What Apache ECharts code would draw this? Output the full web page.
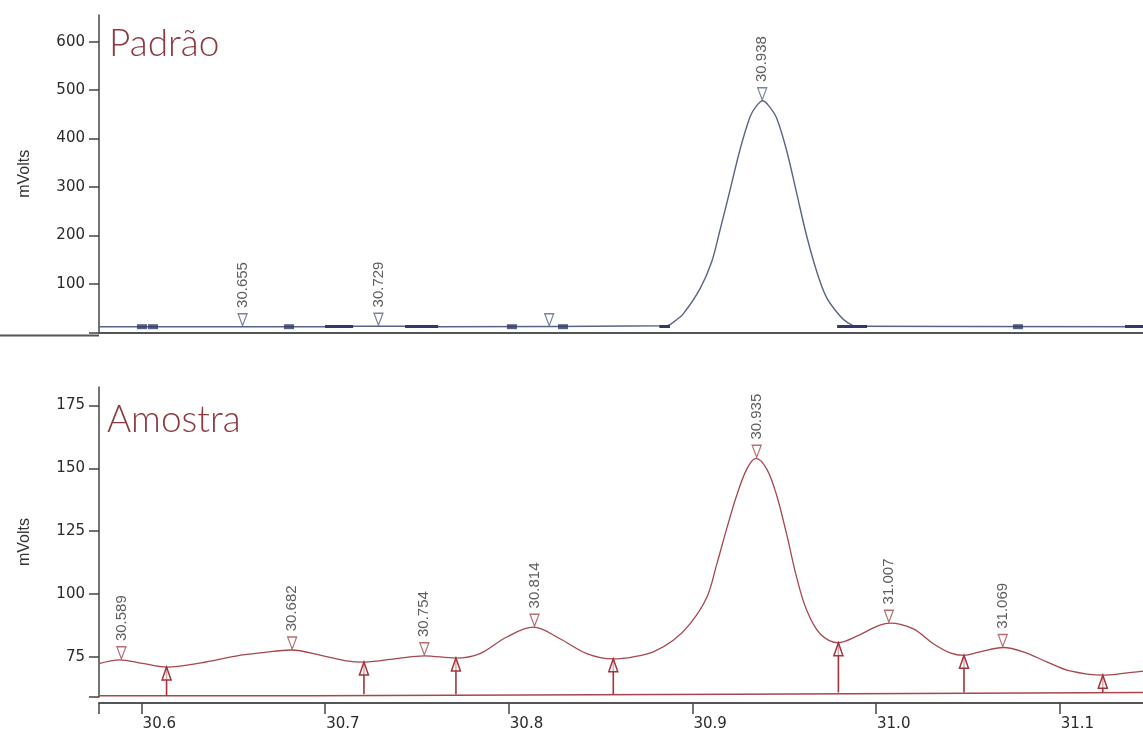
<!DOCTYPE html>
<html>
<head>
<meta charset="utf-8">
<script src="https://cdn.jsdelivr.net/npm/echarts@6/dist/echarts.min.js"></script>
<style>
html,body{margin:0;padding:0;background:#fff;}
#c{width:1143px;height:732px;}
</style>
</head>
<body>
<div id="c"></div>
<script>
// ---- data ----
const xMin = 30.5768, xMax = 31.1454;
const xTickValues = [30.6, 30.7, 30.8, 30.9, 31.0, 31.1];
const topYTicks = [100, 200, 300, 400, 500, 600];
const bottomYTicks = [75, 100, 125, 150, 175];

// Padrão trace
const topTimes  = [30.5768, 30.70, 30.715, 30.7435, 30.76, 30.8862, 30.8905, 30.8949, 30.9041, 30.9105, 30.9150, 30.9205, 30.9259, 30.9314, 30.9346, 30.9383, 30.9417, 30.9459, 30.9514, 30.9568, 30.9623, 30.9677, 30.9731, 30.9804, 30.9847, 30.9891, 31.1454];
const topValues = [12, 12, 13, 13, 12, 14, 24, 38, 90, 146, 211, 294, 377, 445, 466, 478, 467, 442, 374, 287, 198, 126, 72, 34, 20, 13, 12];

// Padrão peak markers
const topPeakTimes  = [30.655, 30.729, 30.822, 30.938];
const topPeakValues = [12, 13, 12, 478];
const topPeakLabels = ['30.655', '30.729', '', '30.938'];

// Padrão integration marks on the baseline
const topMarkTimes  = [30.6002, 30.6062, 30.6803, 30.8017, 30.8295, 31.0773];
const topMarkValues = [12, 12, 12, 12, 12, 12];
const topSegStart = [30.6999, 30.7435, 30.8820, 30.9788, 31.1356];
const topSegEnd   = [30.7152, 30.7615, 30.8878, 30.9951, 31.1454];

// Amostra trace
const botTimes  = [30.5768, 30.5881, 30.6004, 30.6136, 30.6324, 30.6513, 30.6663, 30.6814, 30.6983, 30.7115, 30.7211, 30.7398, 30.7538, 30.7712, 30.7843, 30.7989, 30.8133, 30.8279, 30.8424, 30.8569, 30.8678, 30.8787, 30.8896, 30.8987, 30.9078, 30.9132, 30.9187, 30.9241, 30.9296, 30.9346, 30.9405, 30.9459, 30.9514, 30.9568, 30.9623, 30.9695, 30.9795, 30.9895, 31.0004, 31.0076, 31.0203, 31.0312, 31.0403, 31.0479, 31.0566, 31.0693, 31.0802, 31.0930, 31.1057, 31.1235, 31.1347, 31.1454];
const botValues = [72.3, 73.8, 72.4, 70.9, 72.6, 75.3, 76.7, 77.7, 75.5, 73.4, 72.9, 74.4, 75.4, 74.5, 76.3, 82.9, 86.8, 82.2, 76.3, 74.2, 75.0, 77.0, 81.6, 88.1, 98.6, 111.7, 126.1, 139.2, 149.7, 154.0, 149.7, 139.2, 123.5, 106.5, 93.4, 84.2, 80.6, 83.2, 87.1, 88.4, 86.1, 80.2, 76.6, 75.6, 77.0, 78.7, 77.0, 73.0, 69.4, 67.7, 68.4, 69.3];

// Amostra peak markers
const botPeakTimes  = [30.589, 30.682, 30.754, 30.814, 30.935, 31.007, 31.069];
const botPeakValues = [73.8, 77.7, 75.4, 86.8, 154.0, 88.4, 78.7];
const botPeakLabels = ['30.589', '30.682', '30.754', '30.814', '30.935', '31.007', '31.069'];

// Amostra valley (peak start/end) arrows
const valleyTimes  = [30.6136, 30.7211, 30.7712, 30.8569, 30.9795, 31.0479, 31.1235];
const valleyValues = [70.9, 72.9, 74.5, 74.2, 80.6, 75.6, 67.7];

// Amostra baseline (steps)
const baseTimes  = [30.5768, 30.692, 30.692, 30.923, 30.923, 31.1454];
const baseValues = [59.5, 59.5, 60.1, 60.1, 60.8, 60.8];

// ---- helpers ----
const zip = (a, b) => a.map((v, i) => [v, b[i]]);
function baseAt(t) {
  let v = baseValues[0];
  for (let i = 0; i < baseTimes.length; i++) if (t >= baseTimes[i]) v = baseValues[i];
  return v;
}

const topColor = '#566585';
const botColor = '#a5474d';
const axisColor = '#444';
const tickFont = {fontFamily: 'DejaVu Sans', fontSize: 15, color: '#2a2a2a'};

const chart = echarts.init(document.getElementById('c'), null, {renderer: 'canvas'});

const peakLabel = {
  show: true, position: 'top', distance: 5, rotate: 90,
  align: 'left', verticalAlign: 'middle',
  fontFamily: 'Liberation Sans', fontSize: 15, color: '#333',
  formatter: p => p.name
};

const segSeries = topSegStart.map((s, i) => ({
  type: 'line', xAxisIndex: 0, yAxisIndex: 0, symbol: 'none', silent: true,
  data: [[s, 12.5], [topSegEnd[i], 12.5]],
  lineStyle: {color: '#2f3b66', width: 3}, z: 3
}));

const titleStyle = {fontFamily: 'Lato', fontWeight: 300, fontSize: 37, color: '#8c3a40'};

chart.setOption({
  animation: false,
  backgroundColor: '#fff',
  title: [
    {text: 'Padrão', left: 104, top: 21, textStyle: titleStyle},
    {text: 'Amostra', left: 102, top: 397, textStyle: titleStyle}
  ],
  grid: [
    {left: 99, right: 0, top: 15, height: 317.5},
    {left: 99, right: 0, top: 387, height: 313.7}
  ],
  xAxis: [
    {type: 'value', gridIndex: 0, min: xMin, max: xMax, offset: 3,
     axisLine: {show: true, lineStyle: {color: '#555', width: 2}},
     axisTick: {show: false}, axisLabel: {show: false}, splitLine: {show: false}},
    {type: 'value', gridIndex: 1, min: xMin, max: xMax, offset: 6,
     axisLine: {show: true, lineStyle: {color: '#555', width: 2}},
     axisTick: {show: true, length: 11, lineStyle: {color: axisColor, width: 1.5},
                customValues: [xMin].concat(xTickValues)},
     axisLabel: Object.assign({show: true, margin: 14, align: 'left', padding: [0, 0, 0, 1],
                customValues: xTickValues, formatter: v => v.toFixed(1)}, tickFont),
     splitLine: {show: false}}
  ],
  yAxis: [
    {type: 'value', gridIndex: 0, min: 0, max: 655,
     name: 'mVolts', nameLocation: 'middle', nameGap: 66,
     nameTextStyle: {fontFamily: 'Liberation Sans', fontSize: 16, color: '#333'},
     axisLine: {show: true, lineStyle: {color: axisColor, width: 1.5}},
     axisTick: {show: true, length: 10, lineStyle: {color: axisColor, width: 1.5},
                customValues: [0].concat(topYTicks)},
     axisLabel: Object.assign({margin: 14, customValues: topYTicks}, tickFont),
     splitLine: {show: false}},
    {type: 'value', gridIndex: 1, min: 59, max: 182.4,
     name: 'mVolts', nameLocation: 'middle', nameGap: 66,
     nameTextStyle: {fontFamily: 'Liberation Sans', fontSize: 16, color: '#333'},
     axisLine: {show: true, lineStyle: {color: axisColor, width: 1.5}},
     axisTick: {show: true, length: 10, lineStyle: {color: axisColor, width: 1.5},
                customValues: [59].concat(bottomYTicks)},
     axisLabel: Object.assign({margin: 14, customValues: bottomYTicks}, tickFont),
     splitLine: {show: false}}
  ],
  graphic: [
    {type: 'line', shape: {x1: 0, y1: 335.5, x2: 99, y2: 335.5},
     style: {stroke: '#555', lineWidth: 2}}
  ],
  series: [
    {type: 'line', name: 'Padrão', xAxisIndex: 0, yAxisIndex: 0, symbol: 'none', smooth: 0.35,
     data: zip(topTimes, topValues), lineStyle: {color: topColor, width: 1.4}, z: 2},
    {type: 'scatter', xAxisIndex: 0, yAxisIndex: 0, symbol: 'rect', symbolSize: [10, 5],
     data: zip(topMarkTimes, topMarkValues), itemStyle: {color: '#2f3b66'}, z: 4},
    {type: 'scatter', xAxisIndex: 0, yAxisIndex: 0, symbol: 'triangle', symbolRotate: 180,
     symbolSize: [9, 12], symbolOffset: [0, -7],
     data: topPeakTimes.map((t, i) => ({value: [t, topPeakValues[i]], name: topPeakLabels[i]})),
     itemStyle: {color: '#fff', borderColor: topColor, borderWidth: 1.3},
     label: peakLabel, z: 5},
    {type: 'line', name: 'Amostra', xAxisIndex: 1, yAxisIndex: 1, symbol: 'none', smooth: 0.35,
     data: zip(botTimes, botValues), lineStyle: {color: botColor, width: 1.3}, z: 2},
    {type: 'line', xAxisIndex: 1, yAxisIndex: 1, symbol: 'none',
     data: zip(baseTimes, baseValues), lineStyle: {color: botColor, width: 1.3}, z: 2},
    {type: 'scatter', xAxisIndex: 1, yAxisIndex: 1, symbol: 'triangle', symbolRotate: 180,
     symbolSize: [9, 12], symbolOffset: [0, -7],
     data: botPeakTimes.map((t, i) => ({value: [t, botPeakValues[i]], name: botPeakLabels[i]})),
     itemStyle: {color: '#fff', borderColor: botColor, borderWidth: 1.3},
     label: peakLabel, z: 5},
    {type: 'custom', xAxisIndex: 1, yAxisIndex: 1, z: 4,
     data: valleyTimes.map((t, i) => [t, valleyValues[i], baseAt(t)]),
     renderItem: function (params, api) {
       const tp = api.coord([api.value(0), api.value(1)]);
       const bp = api.coord([api.value(0), api.value(2)]);
       return {type: 'group', children: [
         {type: 'line', shape: {x1: tp[0], y1: tp[1], x2: bp[0], y2: bp[1]},
          style: {stroke: '#a3343c', lineWidth: 1.6}},
         {type: 'polygon', shape: {points: [[tp[0], tp[1]], [tp[0] - 4.5, tp[1] + 13], [tp[0] + 4.5, tp[1] + 13]]},
          style: {fill: 'rgba(255,255,255,0.6)', stroke: '#a3343c', lineWidth: 1.5}}
       ]};
     }},
    ...segSeries
  ]
});
</script>
</body>
</html>
